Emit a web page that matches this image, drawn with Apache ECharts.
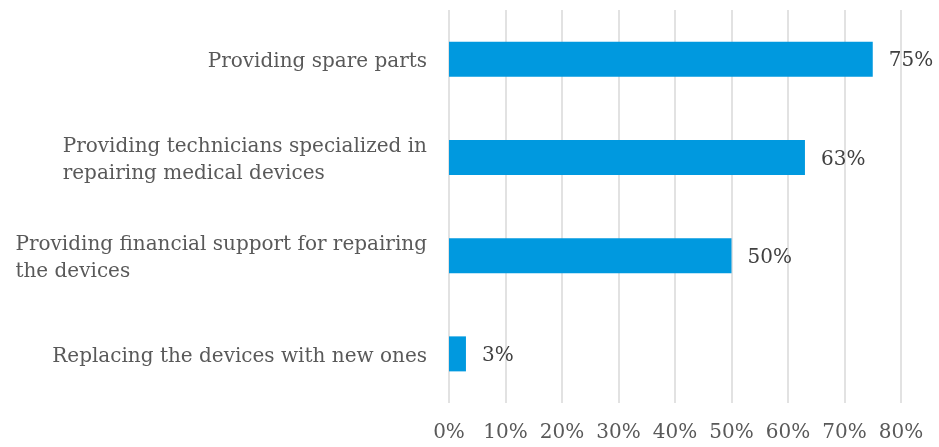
<!DOCTYPE html>
<html>
<head>
<meta charset="utf-8">
<script src="https://cdn.jsdelivr.net/npm/echarts@6/dist/echarts.min.js"></script>
<style>
  html, body { margin: 0; padding: 0; background: #ffffff; }
  #chart { width: 939px; height: 447px; }
</style>
</head>
<body>
<div id="chart"></div>
<script>
// Categories listed bottom-to-top (category axis runs upward)
const categories = [
  'Replacing the devices with new ones',
  'Providing financial support for repairing\nthe devices',
  'Providing technicians specialized in\nrepairing medical devices',
  'Providing spare parts'
];
const values = [3, 50, 63, 75];
const xTicks = [0, 10, 20, 30, 40, 50, 60, 70, 80];

const FONT = 'DejaVu Serif';

const chart = echarts.init(document.getElementById('chart'), null, { renderer: 'canvas' });

chart.setOption({
  animation: false,
  backgroundColor: '#ffffff',
  grid: { left: 449, right: 38, top: 10, bottom: 44, containLabel: false },
  xAxis: {
    type: 'value',
    min: xTicks[0],
    max: xTicks[xTicks.length - 1],
    interval: 10,
    axisLine: { show: false },
    axisTick: { show: false },
    splitLine: { show: true, lineStyle: { color: '#d9d9d9', width: 1.5 } },
    axisLabel: {
      margin: 20,
      color: '#595959',
      fontFamily: FONT,
      fontSize: 20,
      formatter: v => v + '%'
    }
  },
  yAxis: {
    type: 'category',
    data: categories,
    axisLine: { show: false },
    axisTick: { show: false },
    axisLabel: {
      margin: 22,
      align: 'right',
      padding: [5, 0, 0, 0],
      formatter: v => v.split('\n').map(s => '{t|' + s + '}').join('\n'),
      rich: {
        t: {
          align: 'left',
          color: '#595959',
          fontFamily: FONT,
          fontSize: 20,
          lineHeight: 27
        }
      }
    }
  },
  series: [{
    type: 'bar',
    data: values,
    barWidth: 35,
    itemStyle: { color: '#0099df' },
    label: {
      show: true,
      position: 'right',
      distance: 16,
      offset: [0, 2],
      color: '#404040',
      fontFamily: FONT,
      fontSize: 20,
      formatter: p => p.value + '%'
    }
  }]
});
</script>
</body>
</html>
